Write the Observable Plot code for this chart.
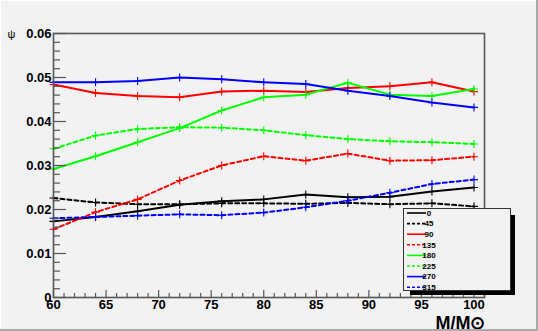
<!DOCTYPE html>
<html><head><meta charset="utf-8">
<script src="https://cdn.jsdelivr.net/npm/d3@7"></script>
<script src="https://cdn.jsdelivr.net/npm/@observablehq/plot@0.6"></script>
<style>
html,body{margin:0;padding:0;background:#f2f2f2;}
#chart svg{display:block;}
</style></head><body><div id="chart"></div>
<script>
const mass = [60, 64, 68, 72, 76, 80, 84, 88, 92, 96, 100];
const psi0   = [0.0173,0.0183,0.0196,0.0211,0.0219,0.0223,0.0234,0.0228,0.0229,0.0241,0.0250];
const psi45  = [0.0226,0.0216,0.0212,0.0212,0.0214,0.0214,0.0213,0.0215,0.0212,0.0214,0.0207];
const psi90  = [0.0484,0.0465,0.0458,0.0455,0.0468,0.0470,0.0467,0.0476,0.0480,0.0489,0.0468];
const psi135 = [0.0155,0.0194,0.0223,0.0266,0.0300,0.0321,0.0311,0.0327,0.0311,0.0312,0.0320];
const psi180 = [0.0292,0.0321,0.0353,0.0385,0.0425,0.0455,0.0461,0.0488,0.0461,0.0458,0.0474];
const psi225 = [0.0338,0.0368,0.0383,0.0387,0.0386,0.0380,0.0369,0.0360,0.0355,0.0353,0.0349];
const psi270 = [0.0489,0.0489,0.0492,0.0500,0.0496,0.0489,0.0485,0.0470,0.0458,0.0443,0.0432];
const psi315 = [0.0180,0.0183,0.0186,0.0189,0.0187,0.0193,0.0205,0.0220,0.0238,0.0258,0.0268];

const seriesNames  = ["0","45","90","135","180","225","270","315"];
const seriesValues = [psi0, psi45, psi90, psi135, psi180, psi225, psi270, psi315];
const seriesColors = ["#000000","#000000","#ff0000","#ff0000","#00ff00","#00ff00","#0000ff","#0000ff"];
const seriesDashed = [false,true,false,true,false,true,false,true];

const xTicks = [60, 65, 70, 75, 80, 85, 90, 95, 100];
const xTickLabels = ["60","65","70","75","80","85","90","95","100"];
const yTicks = [0, 0.01, 0.02, 0.03, 0.04, 0.05, 0.06];
const yTickLabels = ["0","0.01","0.02","0.03","0.04","0.05","0.06"];
const xTitle = "M/M\u2299";
const yTitle = "\u03c8";

const xMinor = d3.range(60, 101.01, 1).filter(v => !xTicks.includes(v));
const yMinor = d3.range(0, 0.0601, 0.002).filter(v => !yTicks.some(t => Math.abs(t - v) < 1e-9));

const marks = [];
seriesNames.forEach((name, i) => {
  const data = mass.map((m, j) => ({m, v: seriesValues[i][j]}));
  marks.push(Plot.line(data, {x: "m", y: "v", stroke: seriesColors[i], strokeWidth: 2,
    strokeDasharray: seriesDashed[i] ? "4,3" : null}));
  marks.push(Plot.dot(data, {x: "m", y: "v", symbol: "plus", r: 2.7, stroke: seriesColors[i], strokeWidth: 1.1}));
});

const axisStyle = {stroke: "#555", strokeWidth: 1.2, label: null};
const chart = Plot.plot({
  width: 538, height: 331,
  marginLeft: 53, marginTop: 33, marginRight: 54, marginBottom: 34,
  style: {fontFamily: "Liberation Sans, Arial, sans-serif", background: "#f2f2f2", color: "#000"},
  x: {domain: [60, 101], axis: null},
  y: {domain: [0, 0.06], axis: null},
  marks: [
    ...marks,
    Plot.axisY(yTicks, {...axisStyle, tickSize: -13, text: null}),
    Plot.axisY(yMinor, {...axisStyle, tickSize: -7, text: null}),
    Plot.axisX(xTicks, {...axisStyle, tickSize: -7, text: null}),
    Plot.axisX(xMinor, {...axisStyle, tickSize: -4, text: null}),
    Plot.axisY(yTicks, {label: null, tickSize: 0, tickPadding: 2, fontSize: 13, fontWeight: "bold",
      tickFormat: (d, i) => yTickLabels[yTicks.indexOf(d)]}),
    Plot.axisX(xTicks, {label: null, tickSize: 0, tickPadding: 2, fontSize: 13, fontWeight: "bold",
      tickFormat: d => xTickLabels[xTicks.indexOf(d)]}),
    Plot.frame({stroke: "#555", strokeWidth: 1.6}),
    Plot.text([xTitle], {text: d => d, frameAnchor: "bottom-right", textAnchor: "end", lineAnchor: "bottom",
      dx: 1, dy: 31, fontSize: 18, fontWeight: "bold"}),
    Plot.text([yTitle], {text: d => d, frameAnchor: "top-left", textAnchor: "middle", lineAnchor: "middle",
      dx: -42, dy: 1, fontSize: 11})
  ]
});
document.getElementById("chart").appendChild(chart);

// Canvas bevel and legend
const svg = d3.select(chart);
svg.append("rect").attr("x", 0).attr("y", 0).attr("width", 538).attr("height", 1).attr("fill", "#fff");
svg.append("rect").attr("x", 0).attr("y", 0).attr("width", 1).attr("height", 331).attr("fill", "#fff");
svg.append("rect").attr("x", 0).attr("y", 329).attr("width", 538).attr("height", 2).attr("fill", "#aaa");
svg.append("rect").attr("x", 536).attr("y", 0).attr("width", 2).attr("height", 331).attr("fill", "#aaa");

const lg = svg.append("g");
lg.append("rect").attr("x", 410).attr("y", 215).attr("width", 105).attr("height", 80).attr("fill", "#000");
lg.append("rect").attr("x", 403.5).attr("y", 208.5).attr("width", 107).attr("height", 82)
  .attr("fill", "#f2f2f2").attr("stroke", "#333").attr("stroke-width", 1);
seriesNames.forEach((name, i) => {
  const y = 213 + i * 10.6;
  lg.append("line").attr("x1", 407).attr("x2", 426).attr("y1", y).attr("y2", y)
    .attr("stroke", seriesColors[i]).attr("stroke-width", 1.6)
    .attr("stroke-dasharray", seriesDashed[i] ? "3,2" : null);
  lg.append("text").attr("x", 429).attr("y", y).attr("dy", "0.35em")
    .attr("font-size", 8).attr("font-weight", "bold").attr("font-family", "Liberation Sans, Arial, sans-serif")
    .text(name);
});
</script></body></html>
